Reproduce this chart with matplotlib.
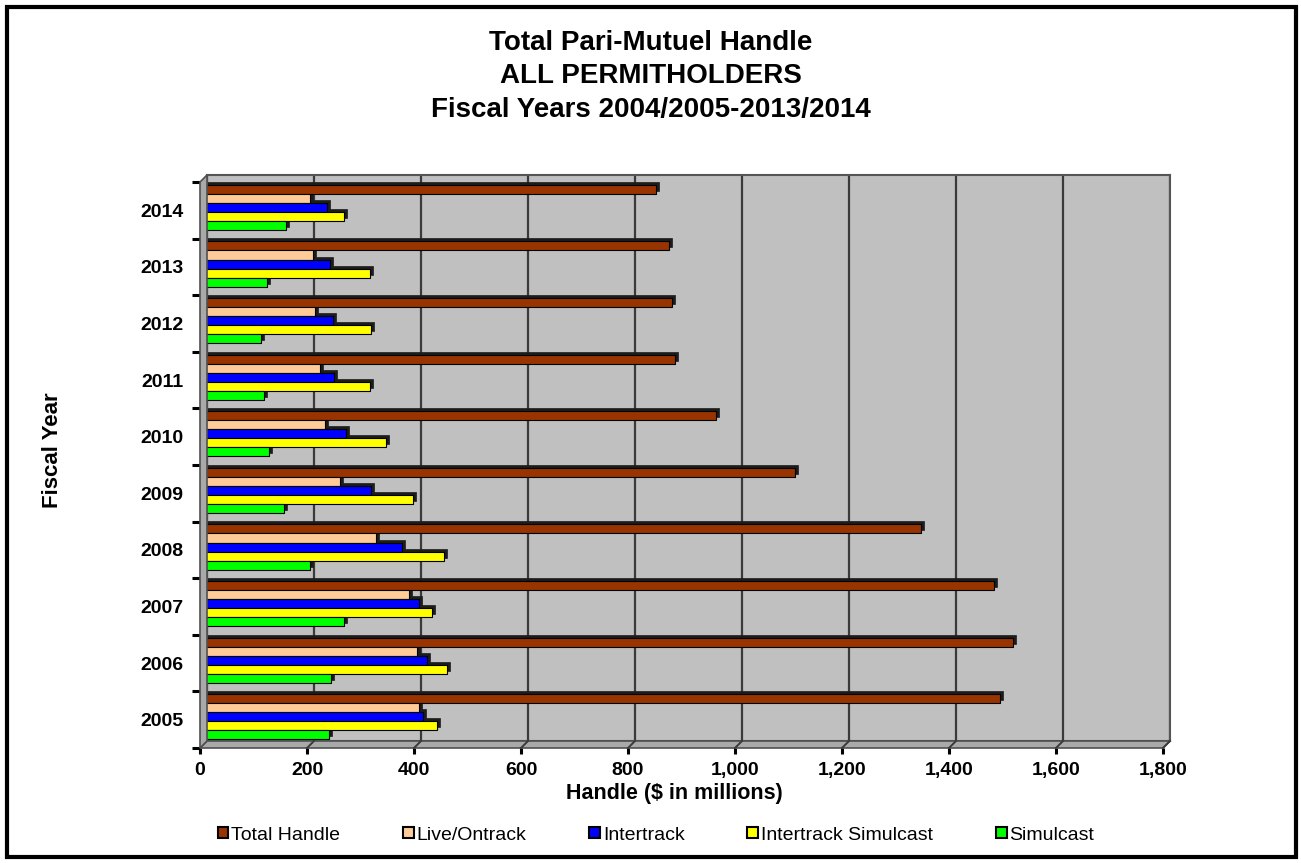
import matplotlib
matplotlib.use('Agg')
import matplotlib.pyplot as plt
import matplotlib.transforms as mtransforms
from matplotlib.patches import Polygon, Patch, Rectangle
from matplotlib.lines import Line2D
import numpy as np

plt.rcParams['font.family'] = ['Liberation Sans', 'DejaVu Sans']

years = ['2005', '2006', '2007', '2008', '2009', '2010', '2011', '2012', '2013', '2014']
total_handle = [1487, 1513, 1476, 1340, 1104, 957, 881, 875, 869, 845]
live_ontrack = [401, 399, 384, 321, 254, 226, 216, 207, 203, 198]
intertrack = [410, 416, 401, 371, 312, 265, 243, 241, 235, 230]
intertrack_simulcast = [435, 455, 427, 448, 390, 340, 310, 313, 310, 262]
simulcast = [233, 237, 261, 198, 149, 121, 112, 106, 118, 153]

series = [
    ('Total Handle', total_handle, '#993300'),
    ('Live/Ontrack', live_ontrack, '#FFCC99'),
    ('Intertrack', intertrack, '#0000FF'),
    ('Intertrack Simulcast', intertrack_simulcast, '#FFFF00'),
    ('Simulcast', simulcast, '#00FF00'),
]

W, H = 1301, 863
fig = plt.figure(figsize=(W / 100, H / 100), dpi=100)


def fx(px):
    return px / W


def fy(py):
    return 1 - py / H


# back wall of the pseudo-3D box
bl, br, bt, bb = 207, 1170, 175, 741
d = 7  # depth offset in pixels
ax = fig.add_axes([fx(bl), fy(bb), (br - bl) / W, (bb - bt) / H])
ax.set_facecolor('#C0C0C0')
ax.set_xlim(0, 1800)
ax.set_ylim(0, 10)
ax.set_xticks(np.arange(0, 1801, 200))
ax.set_yticks([])
ax.tick_params(axis='x', length=0, labelbottom=False)
ax.grid(axis='x', color='#3a3a3a', linewidth=1.6)
ax.set_axisbelow(True)
for s in ax.spines.values():
    s.set_color('#555555')
    s.set_linewidth(1.5)

ypos = np.arange(len(years))
bar_h = 0.16
front = mtransforms.offset_copy(ax.transData, fig=fig, x=-3, y=-3, units='dots')
for k, (name, vals, color) in enumerate(series):
    y = ypos + 0.08 + (4 - k) * bar_h + bar_h / 2
    shadow = ax.barh(y, vals, height=bar_h, color='#1c1c1c', edgecolor='#1c1c1c',
                     linewidth=0.5, zorder=2)
    bars = ax.barh(y, vals, height=bar_h, color=color, edgecolor='black',
                   linewidth=0.8, zorder=3)
    for r in list(shadow) + list(bars):
        r.set_clip_on(False)
    for r in bars:
        r.set_transform(front)

# floor and left wall
floor = Polygon([(fx(bl - d), fy(bb + d)), (fx(bl), fy(bb)), (fx(br), fy(bb)),
                 (fx(br - d), fy(bb + d))], closed=True, transform=fig.transFigure,
                facecolor='#a9a9a9', edgecolor='#505050', linewidth=1.2)
wall = Polygon([(fx(bl - d), fy(bt + d)), (fx(bl), fy(bt)), (fx(bl), fy(bb)),
                (fx(bl - d), fy(bb + d))], closed=True, transform=fig.transFigure,
               facecolor='#a9a9a9', edgecolor='#505050', linewidth=1.2)
fig.patches.extend([floor, wall])
scale = (br - bl) / 1800
for v in range(200, 1801, 200):
    xb = bl + v * scale
    fig.lines.append(Line2D([fx(xb), fx(xb - d)], [fy(bb), fy(bb + d)],
                            transform=fig.transFigure, color='#3a3a3a', linewidth=1.4))

# front axes carrying ticks and labels
axf = fig.add_axes([fx(bl - d), fy(bb + d), (br - bl) / W, (bb - bt) / H], frameon=False)
axf.patch.set_visible(False)
axf.set_xlim(0, 1800)
axf.set_ylim(0, 10)
axf.set_xticks(np.arange(0, 1801, 200))
axf.set_xticklabels([f'{v:,}' for v in range(0, 1801, 200)], fontweight='bold', fontsize=14)
axf.tick_params(axis='x', direction='out', length=4, width=2.2, color='black', pad=6)
axf.set_yticks(np.arange(0, 11))
axf.set_yticklabels([])
axf.set_yticks(ypos + 0.5, minor=True)
axf.set_yticklabels(years, minor=True, fontweight='bold', fontsize=14)
axf.tick_params(axis='y', which='major', direction='out', length=6, width=2.2, color='black')
axf.tick_params(axis='y', which='minor', length=0, pad=12)

# titles and axis labels
title_lines = ['Total Pari-Mutuel Handle', 'ALL PERMITHOLDERS', 'Fiscal Years 2004/2005-2013/2014']
for line, yc in zip(title_lines, [43, 76, 110]):
    fig.text(0.5, fy(yc), line, ha='center', va='center', fontsize=20, fontweight='bold')
fig.text(fx(674), fy(793), 'Handle ($ in millions)', ha='center', va='center',
         fontsize=15.5, fontweight='bold')
fig.text(fx(52), fy(450), 'Fiscal Year', ha='center', va='center', rotation=90,
         fontsize=16, fontweight='bold')

handles = [Patch(facecolor=c, edgecolor='black', linewidth=1.5) for _, _, c in series]
fig.legend(handles, [n for n, _, _ in series], loc='center', bbox_to_anchor=(fx(656), fy(835)),
           ncol=5, frameon=False, fontsize=14, handlelength=0.55, handleheight=0.55,
           handletextpad=0.15, columnspacing=3.23)

# outer border
fig.patches.append(Rectangle((fx(7), fy(857)), fx(1296) - fx(7), fy(7) - fy(857),
                             transform=fig.transFigure, fill=False, edgecolor='black',
                             linewidth=3))

fig.savefig('out.png', dpi=100)
